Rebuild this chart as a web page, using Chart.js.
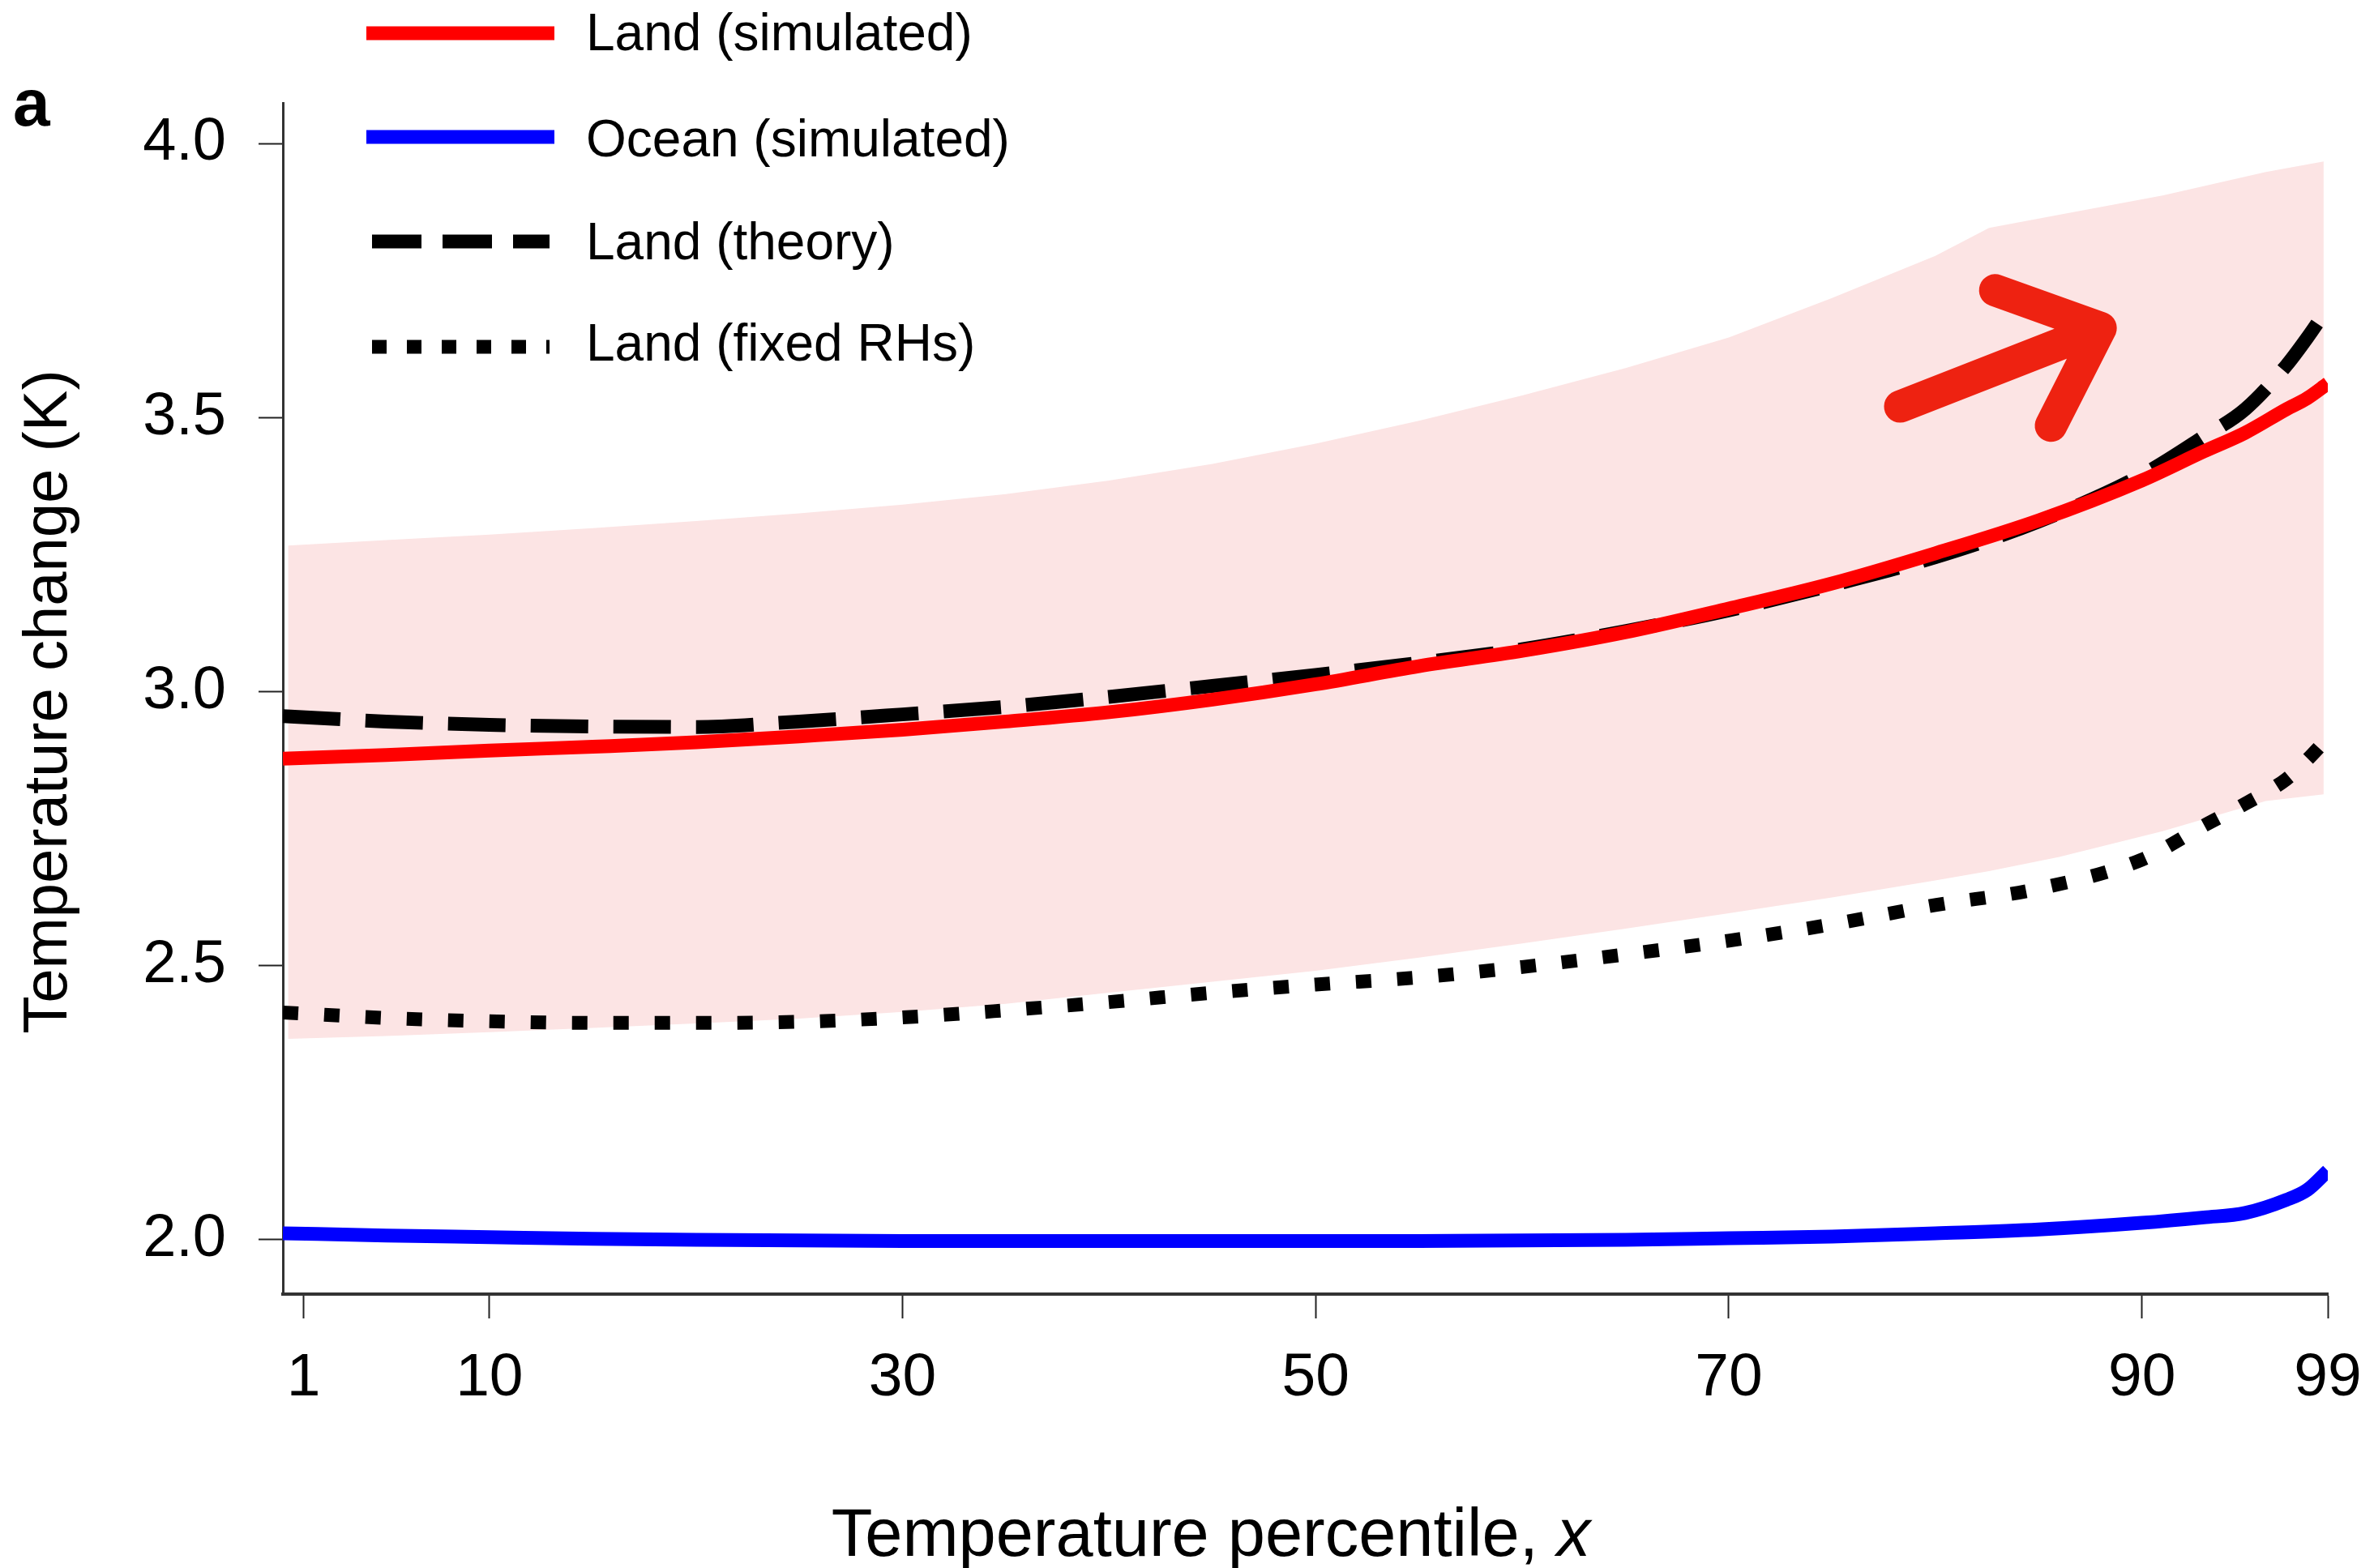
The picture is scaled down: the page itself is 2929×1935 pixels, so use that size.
<!DOCTYPE html>
<html lang="en">
<head>
    <meta charset="UTF-8">
    <title>Temperature change by percentile</title>
    <style>
        body { margin: 0; padding: 0; background: #fff; }
        #grafico { display: block; }
    </style>
</head>
<body>
    <canvas id="grafico" width="2929" height="1935"></canvas>
    <script src="https://cdn.jsdelivr.net/npm/chart.js"></script>
    <script>
    const percentiles = [0, 5, 10, 15, 20, 25, 30, 35, 40, 45, 50, 55, 60, 65, 70, 75, 80, 85, 90, 93, 95, 97, 98, 99];
    const landSimulated = [2.877, 2.884, 2.892, 2.899, 2.907, 2.918, 2.930, 2.945, 2.962, 2.985, 3.013, 3.046, 3.074, 3.108, 3.151, 3.197, 3.252, 3.312, 3.385, 3.438, 3.472, 3.515, 3.535, 3.562];
    const oceanSimulated = [2.011, 2.007, 2.004, 2.001, 1.999, 1.998, 1.997, 1.997, 1.997, 1.997, 1.997, 1.997, 1.998, 1.999, 2.002, 2.005, 2.011, 2.018, 2.030, 2.040, 2.048, 2.072, 2.090, 2.125];
    const landTheory = [2.955, 2.945, 2.939, 2.936, 2.935, 2.945, 2.958, 2.972, 2.990, 3.010, 3.030, 3.052, 3.077, 3.110, 3.148, 3.194, 3.245, 3.310, 3.395, 3.465, 3.515, 3.595, 3.645, 3.700];
    const landFixedRH = [2.414, 2.404, 2.398, 2.395, 2.395, 2.397, 2.405, 2.418, 2.433, 2.450, 2.465, 2.478, 2.497, 2.520, 2.545, 2.575, 2.610, 2.640, 2.693, 2.755, 2.795, 2.840, 2.875, 2.915];

    // shaded range (land)
    const bandPercentiles = [0.25, 5, 10, 15, 20, 25, 30, 35, 40, 45, 50, 55, 60, 65, 70, 75, 80, 82.6, 86, 91, 96, 98.8];
    const bandUpper = [3.266, 3.276, 3.286, 3.298, 3.311, 3.325, 3.341, 3.360, 3.385, 3.415, 3.452, 3.494, 3.540, 3.590, 3.646, 3.718, 3.795, 3.846, 3.870, 3.905, 3.948, 3.967];
    const bandLower = [2.366, 2.371, 2.378, 2.386, 2.394, 2.403, 2.415, 2.430, 2.450, 2.470, 2.490, 2.514, 2.540, 2.567, 2.595, 2.624, 2.655, 2.672, 2.698, 2.745, 2.800, 2.812];

    const xTicks = [1, 10, 30, 50, 70, 90, 99];
    const yTicks = [2.0, 2.5, 3.0, 3.5, 4.0];

    // red arrow annotation, in data units: [percentile, K]
    const arrowTail = [78.3, 3.52];
    const arrowTip = [88.0, 3.663];
    const arrowArms = [[82.9, 3.732], [85.6, 3.485]];

    const FONT = "'Liberation Sans', Arial, Helvetica, sans-serif";

    function pares(xs, ys) {
        return xs.map((x, i) => ({ x: x, y: ys[i] }));
    }

    const series = [
        { label: 'Land (simulated)', data: landSimulated, color: '#ff0000', dash: [], legendDash: [], order: 0 },
        { label: 'Ocean (simulated)', data: oceanSimulated, color: '#0000ff', dash: [], legendDash: [], order: 1 },
        { label: 'Land (theory)', data: landTheory, color: '#000000', dash: [71, 31], legendDash: [61, 26], order: 2 },
        { label: 'Land (fixed RHs)', data: landFixedRH, color: '#000000', dash: [19, 32], legendDash: [18, 25], order: 3 }
    ];

    const datasets = series.map(s => ({
        label: s.label,
        data: pares(percentiles, s.data),
        borderColor: s.color,
        borderWidth: 17,
        borderDash: s.dash,
        borderCapStyle: 'butt',
        cubicInterpolationMode: 'monotone',
        pointRadius: 0,
        fill: false,
        order: s.order
    }));
    datasets.push({
        label: 'band upper',
        data: pares(bandPercentiles, bandUpper),
        borderWidth: 0,
        pointRadius: 0,
        backgroundColor: '#fce4e4',
        fill: '+1',
        tension: 0,
        order: 10
    });
    datasets.push({
        label: 'band lower',
        data: pares(bandPercentiles, bandLower),
        borderWidth: 0,
        pointRadius: 0,
        fill: false,
        tension: 0,
        order: 11
    });

    // arrow, legend, panel letter and axis titles
    const extras = {
        id: 'extras',
        afterDatasetsDraw(chart) {
            const { ctx, scales: { x, y } } = chart;
            const p = v => [x.getPixelForValue(v[0]), y.getPixelForValue(v[1])];
            const t = p(arrowTail), h = p(arrowTip), a1 = p(arrowArms[0]), a2 = p(arrowArms[1]);
            ctx.save();
            ctx.strokeStyle = '#ee2211';
            ctx.lineWidth = 40;
            ctx.lineCap = 'round';
            ctx.lineJoin = 'round';
            ctx.beginPath();
            ctx.moveTo(t[0], t[1]);
            ctx.lineTo(h[0], h[1]);
            ctx.moveTo(a1[0], a1[1]);
            ctx.lineTo(h[0], h[1]);
            ctx.lineTo(a2[0], a2[1]);
            ctx.stroke();
            ctx.restore();
        },
        afterDraw(chart) {
            const ctx = chart.ctx;
            ctx.save();
            // legend
            const linhaY = [41, 169, 298, 428];
            const textoY = [62, 193, 320, 445];
            series.forEach((s, i) => {
                ctx.strokeStyle = s.color;
                ctx.lineWidth = 17;
                ctx.lineCap = 'butt';
                ctx.setLineDash(s.legendDash);
                ctx.beginPath();
                ctx.moveTo(s.legendDash.length ? 459 : 452, linhaY[i]);
                ctx.lineTo(s.legendDash.length ? 678 : 684, linhaY[i]);
                ctx.stroke();
                ctx.setLineDash([]);
                ctx.fillStyle = '#000';
                ctx.font = '64px ' + FONT;
                ctx.textAlign = 'left';
                ctx.textBaseline = 'alphabetic';
                ctx.fillText(s.label, 723, textoY[i]);
            });
            // panel letter
            ctx.font = 'bold 82px ' + FONT;
            ctx.fillText('a', 16, 155);
            // x title with italic x
            const parte1 = 'Temperature percentile, ';
            ctx.font = '83px ' + FONT;
            const w1 = ctx.measureText(parte1).width;
            ctx.font = 'italic 83px ' + FONT;
            const w2 = ctx.measureText('x').width;
            let x0 = 1494 - (w1 + w2) / 2;
            ctx.font = '83px ' + FONT;
            ctx.fillText(parte1, x0, 1920);
            ctx.font = 'italic 83px ' + FONT;
            ctx.fillText('x', x0 + w1, 1920);
            // y title
            ctx.translate(82, 866);
            ctx.rotate(-Math.PI / 2);
            ctx.font = '76px ' + FONT;
            ctx.textAlign = 'center';
            ctx.fillText('Temperature change (K)', 0, 0);
            ctx.restore();
        }
    };

    new Chart(document.getElementById('grafico'), {
        type: 'line',
        data: { datasets: datasets },
        options: {
            responsive: false,
            animation: false,
            devicePixelRatio: 1,
            layout: { padding: { top: 127, right: 57, bottom: 0, left: 0 } },
            plugins: { legend: { display: false }, tooltip: { enabled: false } },
            scales: {
                x: {
                    type: 'linear',
                    min: 0,
                    max: 99,
                    afterFit: s => { s.height = 338; s.paddingLeft = 0; s.paddingRight = 0; },
                    afterBuildTicks: s => { s.ticks = xTicks.map(v => ({ value: v })); },
                    grid: { drawOnChartArea: false, tickLength: 30, tickWidth: 2, tickColor: '#222' },
                    border: { display: true, color: '#333', width: 4 },
                    ticks: {
                        autoSkip: false, maxRotation: 0, padding: 29, color: '#000',
                        font: { family: FONT, size: 75 },
                        callback: v => String(v)
                    }
                },
                y: {
                    type: 'linear',
                    min: 1.9,
                    max: 4.074,
                    afterFit: s => { s.width = 349; s.paddingTop = 0; s.paddingBottom = 0; },
                    afterBuildTicks: s => { s.ticks = yTicks.map(v => ({ value: v })); },
                    grid: { drawOnChartArea: false, tickLength: 30, tickWidth: 2, tickColor: '#222' },
                    border: { display: true, color: '#333', width: 3 },
                    ticks: {
                        autoSkip: false, padding: 40, color: '#000',
                        font: { family: FONT, size: 74 },
                        callback: v => v.toFixed(1)
                    }
                }
            }
        },
        plugins: [extras]
    });
    </script>
</body>
</html>
